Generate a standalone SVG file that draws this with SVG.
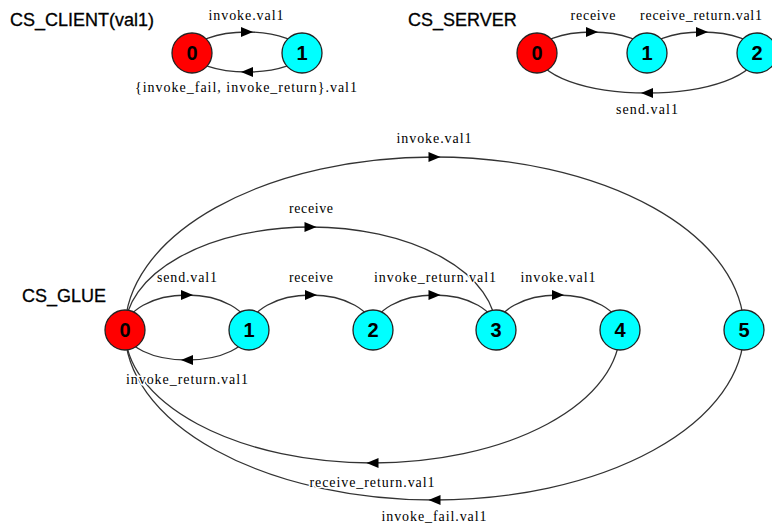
<svg xmlns="http://www.w3.org/2000/svg" width="772" height="524" viewBox="0 0 772 524">
<style>
.t{font-family:"Liberation Sans","DejaVu Sans",sans-serif;font-size:18px;fill:#000;stroke:#000;stroke-width:0.3px}
.l{font-family:"Liberation Serif","DejaVu Serif",serif;font-size:14px;fill:#000;text-anchor:middle;stroke:#fff;stroke-width:3px;paint-order:stroke;stroke-linejoin:round}
.e{fill:none;stroke:#333;stroke-width:1.3}
.a{fill:#000}
.n circle{stroke:#222;stroke-width:1.3}
.n text{font-family:"Liberation Sans","DejaVu Sans",sans-serif;font-size:20px;font-weight:bold;text-anchor:middle;fill:#000}
.r{fill:#ff0000}
.c{fill:#00ffff}
</style>
<rect width="772" height="524" fill="#fff"/>
<text class="t" x="10" y="26">CS_CLIENT(val1)</text>
<text class="t" x="408" y="26">CS_SERVER</text>
<text class="t" x="22" y="302">CS_GLUE</text>
<g id="connectors">
<path class="e" d="M192 53 A55 21 0 0 1 302 53"/>
<polygon class="a" points="241,27 253,32 241,37"/>
<path class="e" d="M302 53 A55 19 0 0 1 192 53"/>
<polygon class="a" points="253,67 241,72 253,77"/>
<path class="e" d="M537 53 A55 21 0 0 1 647 53"/>
<polygon class="a" points="586,27 598,32 586,37"/>
<path class="e" d="M647 53 A55 21 0 0 1 757 53"/>
<polygon class="a" points="696,27 708,32 696,37"/>
<path class="e" d="M757 53 A110 40 0 0 1 537 53"/>
<polygon class="a" points="653,88 641,93 653,98"/>
<path class="e" d="M125 330 A62 35 0 0 1 249 330"/>
<polygon class="a" points="181,290 193,295 181,300"/>
<path class="e" d="M249 330 A62 30 0 0 1 125 330"/>
<polygon class="a" points="193,355 181,360 193,365"/>
<path class="e" d="M249 330 A62 35 0 0 1 373 330"/>
<polygon class="a" points="305,290 317,295 305,300"/>
<path class="e" d="M373 330 A61.5 35 0 0 1 496 330"/>
<polygon class="a" points="428.5,290 440.5,295 428.5,300"/>
<path class="e" d="M496 330 A62 35 0 0 1 620 330"/>
<polygon class="a" points="552,290 564,295 552,300"/>
<path class="e" d="M125 330 A185.5 103 0 0 1 496 330"/>
<polygon class="a" points="304.5,222 316.5,227 304.5,232"/>
<path class="e" d="M125 330 A309.5 173 0 0 1 744 330"/>
<polygon class="a" points="428.5,152 440.5,157 428.5,162"/>
<path class="e" d="M620 330 A247.5 133 0 0 1 125 330"/>
<polygon class="a" points="378.5,458 366.5,463 378.5,468"/>
<path class="e" d="M744 330 A309.5 170 0 0 1 125 330"/>
<polygon class="a" points="440.5,495 428.5,500 440.5,505"/>
</g>
<g id="labels">
<text class="l" x="246" y="20" textLength="75" lengthAdjust="spacing">invoke.val1</text>
<text class="l" x="246" y="92" textLength="222" lengthAdjust="spacing">{invoke_fail, invoke_return}.val1</text>
<text class="l" x="593" y="20" textLength="45" lengthAdjust="spacing">receive</text>
<text class="l" x="701" y="20" textLength="122" lengthAdjust="spacing">receive_return.val1</text>
<text class="l" x="647" y="114" textLength="62" lengthAdjust="spacing">send.val1</text>
<text class="l" x="434" y="143" textLength="75" lengthAdjust="spacing">invoke.val1</text>
<text class="l" x="311" y="213" textLength="44" lengthAdjust="spacing">receive</text>
<text class="l" x="187" y="282" textLength="60" lengthAdjust="spacing">send.val1</text>
<text class="l" x="311" y="282" textLength="44" lengthAdjust="spacing">receive</text>
<text class="l" x="435" y="282" textLength="122" lengthAdjust="spacing">invoke_return.val1</text>
<text class="l" x="558" y="282" textLength="75" lengthAdjust="spacing">invoke.val1</text>
<text class="l" x="187" y="384" textLength="122" lengthAdjust="spacing">invoke_return.val1</text>
<text class="l" x="372" y="487" textLength="125" lengthAdjust="spacing">receive_return.val1</text>
<text class="l" x="434" y="521" textLength="105" lengthAdjust="spacing">invoke_fail.val1</text>
</g>
<g id="client0" class="n"><circle class="r" cx="192" cy="53" r="20"/><text x="192" y="60">0</text></g>
<g id="client1" class="n"><circle class="c" cx="302" cy="53" r="20"/><text x="302" y="60">1</text></g>
<g id="server0" class="n"><circle class="r" cx="537" cy="53" r="20"/><text x="537" y="60">0</text></g>
<g id="server1" class="n"><circle class="c" cx="647" cy="53" r="20"/><text x="647" y="60">1</text></g>
<g id="server2" class="n"><circle class="c" cx="757" cy="53" r="20"/><text x="757" y="60">2</text></g>
<g id="glue0" class="n"><circle class="r" cx="125" cy="330" r="20"/><text x="125" y="337">0</text></g>
<g id="glue1" class="n"><circle class="c" cx="249" cy="330" r="20"/><text x="249" y="337">1</text></g>
<g id="glue2" class="n"><circle class="c" cx="373" cy="330" r="20"/><text x="373" y="337">2</text></g>
<g id="glue3" class="n"><circle class="c" cx="496" cy="330" r="20"/><text x="496" y="337">3</text></g>
<g id="glue4" class="n"><circle class="c" cx="620" cy="330" r="20"/><text x="620" y="337">4</text></g>
<g id="glue5" class="n"><circle class="c" cx="744" cy="330" r="20"/><text x="744" y="337">5</text></g>
</svg>
